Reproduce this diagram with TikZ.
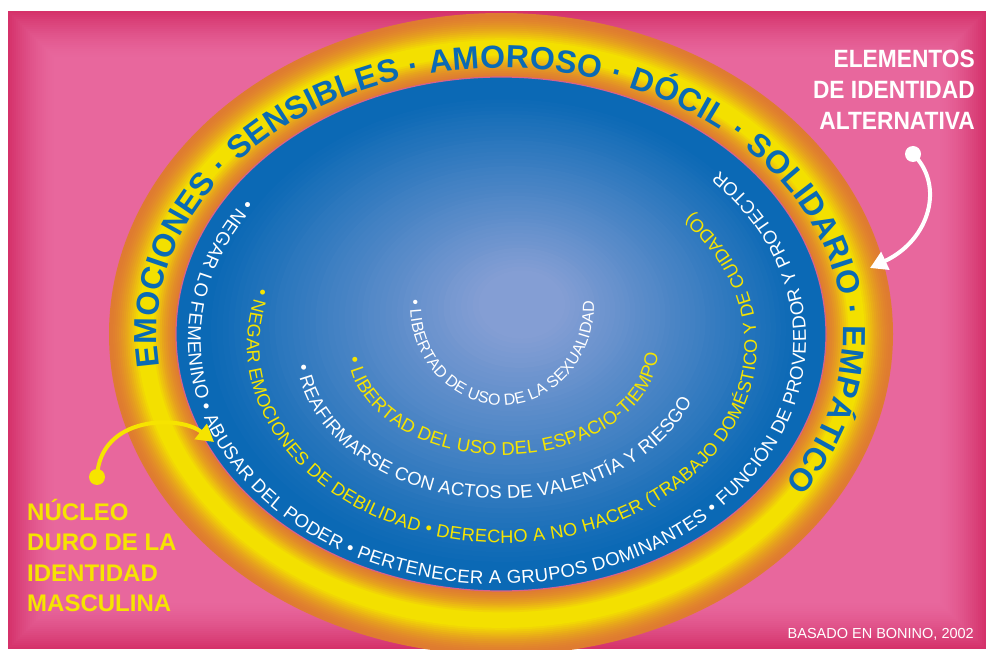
\documentclass[tikz,border=0pt]{standalone}
\usepackage{fontspec}
\setmainfont{Liberation Sans}
\newfontfamily\narrowfont[FakeStretch=0.91]{Liberation Sans}
\usetikzlibrary{decorations.text,arrows.meta}

\definecolor{pinkL}{HTML}{E8679D}
\definecolor{pinkD}{HTML}{D42F68}
\definecolor{orng}{HTML}{DF7B31}
\definecolor{yel}{HTML}{F3E000}
\definecolor{blueD}{HTML}{0B69B5}
\definecolor{blueL}{HTML}{849ED4}
\definecolor{txtBlue}{HTML}{0A6AB4}
\definecolor{txtYel}{HTML}{F6E400}
\definecolor{rimPink}{HTML}{D8628C}

\begin{document}
\begin{tikzpicture}[x=1pt,y=1pt,
  ringtext/.style={decorate,decoration={text along path,text align={fit to path},text={#1}}},
  labw/.style={text=white,font=\narrowfont\bfseries\fontsize{25}{30}\selectfont,inner sep=0pt},
  laby/.style={text=txtYel,font=\bfseries\fontsize{24}{29}\selectfont,inner sep=0pt},
  dotstyle/.style={circle,inner sep=0pt,minimum size=16pt},
  curvearrow/.style={line width=4pt,-{Triangle[length=17pt,width=19pt]}}]
\useasboundingbox (0,0) rectangle (986,649);
\fill[white] (0,0) rectangle (986,649);

% pink background with darker edges
\fill[pinkL] (8,0) rectangle (986,638);
\foreach \i in {0,...,22}{
  \pgfmathsetmacro\myo{0.95*(1-\i/23)^1.5}
  \draw[pinkD,line width=2.1pt,draw opacity=\myo] (9+2*\i,1+2*\i) rectangle (985-2*\i,637-2*\i);
}

% yellow/orange ring
\begin{scope}
  \clip (8,0) rectangle (986,638);
  \foreach \i in {0,...,33}{
    \pgfmathsetmacro\myt{\i/33}
    \pgfmathtruncatemacro\myf{100*(min(1,min(\myt/0.42,(1-\myt)/0.36)))^1.6}
    \fill[yel!\myf!orng] (501,315) ellipse[x radius=392-67*\myt, y radius=321-64*\myt];
  }
\end{scope}

% blue disc with light centre
\foreach \i in {0,...,59}{
  \pgfmathsetmacro\mys{1-\i/60}
  \pgfmathtruncatemacro\myf{max(0,min(100,(0.92-\mys)/0.78*100))}
  \pgfmathsetmacro\cx{501+(525-501)*(1-\mys)}
  \pgfmathsetmacro\cy{315+(349-315)*(1-\mys)}
  \fill[blueL!\myf!blueD] (\cx,\cy) ellipse[x radius=325*\mys, y radius=257*\mys];
}
\draw[rimPink,line width=1.2pt] (501,315) ellipse[x radius=325, y radius=257];

% outer ring words
\path[ringtext={|\fontsize{32}{36}\selectfont\bfseries\color{txtBlue}|EMOCIONES · SENSIBLES · AMOROSO · DÓCIL · SOLIDARIO · EMPÁTICO}]
  (500,315) ++(187:343 and 266) arc[start angle=187,end angle=-34,x radius=343,y radius=266];

% inner rings
\path[ringtext={|\fontsize{18.6}{21}\selectfont\color{white}|• NEGAR LO FEMENINO • ABUSAR DEL PODER • PERTENECER A GRUPOS DOMINANTES • FUNCIÓN DE PROVEEDOR Y PROTECTOR}]
  (497,309) ++(144.6:309 and 244) arc[start angle=144.6,end angle=404,x radius=309,y radius=244];
\path[ringtext={|\fontsize{18.2}{21}\selectfont\color{txtYel}|• NEGAR EMOCIONES DE DEBILIDAD • DERECHO A NO HACER (TRABAJO DOMÉSTICO Y DE CUIDADO)}]
  (502,304) ++(163:255 and 198) arc[start angle=163,end angle=402,x radius=255,y radius=198];
\path[ringtext={|\fontsize{18.5}{21}\selectfont\color{white}|• REAFIRMARSE CON ACTOS DE VALENTÍA Y RIESGO}]
  (500,299) ++(186:204 and 149) arc[start angle=186,end angle=340,x radius=204,y radius=149];
\path[ringtext={|\fontsize{18.5}{21}\selectfont\color{txtYel}|• LIBERTAD DEL USO DEL ESPACIO-TIEMPO}]
  (503,299) ++(184:155 and 105) arc[start angle=184,end angle=358,x radius=155,y radius=105];
\path[ringtext={|\fontsize{16}{18}\selectfont\color{white}|• LIBERTAD DE USO DE LA SEXUALIDAD}]
  (502,344) ++(177:92 and 100) arc[start angle=177,end angle=360,x radius=92,y radius=100];

% labels
\node[labw,anchor=base east] (el1) at (975,581) {ELEMENTOS};
\node[labw,anchor=base east] (el2) at (975,550) {DE IDENTIDAD};
\node[labw,anchor=base east] (el3) at (975,519) {ALTERNATIVA};

\node[laby,anchor=base west] (nu1) at (27,129) {NÚCLEO};
\node[laby,anchor=base west] (nu2) at (27,98.5) {DURO DE LA};
\node[laby,anchor=base west] (nu3) at (27,68) {IDENTIDAD};
\node[laby,anchor=base west] (nu4) at (27,37.5) {MASCULINA};

\node[text=white,font=\fontsize{14.5}{17}\selectfont,inner sep=0pt,anchor=base east] (src) at (974,11) {BASADO EN BONINO, 2002};

% arrows
\node[dotstyle,fill=white] (wdot) at (913,495) {};
\coordinate (wtip) at (870,381);
\draw[white,curvearrow] (wdot.center) .. controls (945,464) and (930,409) .. (wtip);

\node[dotstyle,fill=txtYel] (ydot) at (97,172) {};
\coordinate (ytip) at (214,207);
\draw[txtYel,curvearrow] (ydot.center) .. controls (100,234) and (180,234) .. (ytip);
\end{tikzpicture}
\end{document}
